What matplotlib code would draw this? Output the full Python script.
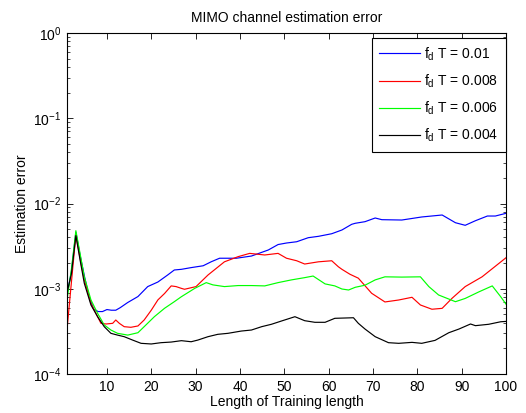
import numpy as np
import matplotlib.pyplot as plt
from matplotlib.ticker import LogLocator, NullFormatter

plt.rcParams['font.family'] = ['Liberation Sans', 'DejaVu Sans']
plt.rcParams['mathtext.fontset'] = 'custom'
plt.rcParams['mathtext.rm'] = 'Liberation Sans'

# ---- data ----
x_01 = [1, 2, 3, 4, 5, 6, 7, 8, 9, 10, 11, 12, 13, 14.7, 17, 19.2, 21.5, 23.7, 25.2, 26.8,
        29, 31.7, 33.5, 35.4, 39.2, 42.6, 46.4, 48.6, 50.5, 52.8, 55.4, 57.7, 60.7, 63,
        65.2, 66, 68.2, 70.5, 72, 76.5, 81, 85.6, 88.6, 90.8, 93.1, 95.8, 97.6, 100]
y_01 = [8.5e-4, 1.6e-3, 4.6e-3, 2.4e-3, 1.35e-3, 8.0e-4, 5.8e-4, 5.4e-4, 5.4e-4, 5.7e-4,
        5.6e-4, 5.6e-4, 6.0e-4, 6.9e-4, 8.1e-4, 1.06e-3, 1.2e-3, 1.45e-3, 1.66e-3, 1.69e-3,
        1.77e-3, 1.86e-3, 2.07e-3, 2.28e-3, 2.28e-3, 2.42e-3, 2.85e-3, 3.3e-3, 3.44e-3,
        3.56e-3, 3.97e-3, 4.12e-3, 4.42e-3, 4.89e-3, 5.7e-3, 5.86e-3, 6.12e-3, 6.76e-3,
        6.46e-3, 6.4e-3, 6.95e-3, 7.33e-3, 5.95e-3, 5.55e-3, 6.28e-3, 7.13e-3, 7.13e-3, 7.67e-3]

x_008 = [1, 2, 3, 4, 4.9, 6.4, 7.9, 8.65, 9.8, 11.3, 12, 12.8, 13.9, 15.4, 17, 18.4, 20,
         21.5, 23, 24.5, 25.6, 26.8, 27.5, 30.1, 32.8, 36.5, 39.6, 42.2, 45.6, 48.6, 50.5,
         52.8, 54.6, 57.7, 60.7, 62.2, 63, 64.8, 66.7, 69.7, 72.7, 75.8, 78.8, 80.7, 83.3,
         85.6, 87.8, 90.8, 94.6, 100]
y_008 = [3.3e-4, 1.2e-3, 4.3e-3, 2.2e-3, 1.27e-3, 6.75e-4, 4.7e-4, 3.93e-4, 3.86e-4, 3.93e-4,
         4.3e-4, 3.93e-4, 3.59e-4, 3.53e-4, 3.66e-4, 4.3e-4, 5.6e-4, 7.4e-4, 8.8e-4, 1.08e-3,
         1.06e-3, 1.01e-3, 9.86e-4, 1.06e-3, 1.45e-3, 2.07e-3, 2.38e-3, 2.6e-3, 2.49e-3,
         2.6e-3, 2.28e-3, 2.13e-3, 1.95e-3, 2.07e-3, 2.13e-3, 1.81e-3, 1.69e-3, 1.48e-3,
         1.33e-3, 8.85e-4, 7.0e-4, 7.38e-4, 7.94e-4, 6.45e-4, 5.75e-4, 5.89e-4, 7.7e-4,
         1.06e-3, 1.38e-3, 2.31e-3]

x_006 = [1, 2, 3, 4, 4.9, 6.4, 7.9, 9.4, 10.9, 12.4, 14.7, 17, 18.4, 20.7, 23, 25.2, 26.8,
         29.8, 32.4, 33.9, 36.5, 39.6, 42.6, 45.6, 48.6, 51.6, 54.6, 56.5, 59.2, 61.4, 63,
         64.5, 66, 68.2, 70.5, 72.7, 76.5, 80.7, 82.6, 84.8, 88.6, 90.8, 93.9, 96.9, 98.8, 100]
y_006 = [7.4e-4, 1.7e-3, 4.8e-3, 2.5e-3, 1.38e-3, 7.4e-4, 5.15e-4, 3.76e-4, 3.28e-4, 3.0e-4,
         2.86e-4, 3.05e-4, 3.59e-4, 4.7e-4, 5.9e-4, 7.05e-4, 8.07e-4, 1.01e-3, 1.18e-3,
         1.11e-3, 1.06e-3, 1.09e-3, 1.09e-3, 1.08e-3, 1.18e-3, 1.27e-3, 1.35e-3, 1.41e-3,
         1.14e-3, 1.08e-3, 9.93e-4, 9.67e-4, 1.04e-3, 1.1e-3, 1.27e-3, 1.38e-3, 1.37e-3,
         1.38e-3, 1.06e-3, 8.45e-4, 7.05e-4, 7.7e-4, 9.2e-4, 1.08e-3, 8.07e-4, 6.6e-4]

x_004 = [1, 2, 3, 4, 4.9, 6.4, 7.9, 9.4, 10.9, 12.4, 13.9, 15.8, 17.7, 20, 22.2, 24.5, 26.8,
         29, 30.5, 32.8, 35, 37.3, 40.3, 42.6, 44.9, 47.1, 49.4, 52.4, 54.6, 56.9, 59.2,
         61.4, 65.6, 66.7, 68.2, 70.5, 73.5, 75.8, 78.8, 81, 84, 87.1, 89.4, 92, 93.1, 96.1,
         98.8, 100]
y_004 = [9.0e-4, 1.5e-3, 4.2e-3, 2.1e-3, 1.16e-3, 6.45e-4, 4.7e-4, 3.59e-4, 3.0e-4, 2.86e-4,
         2.74e-4, 2.5e-4, 2.29e-4, 2.25e-4, 2.33e-4, 2.37e-4, 2.46e-4, 2.39e-4, 2.5e-4,
         2.74e-4, 2.92e-4, 3.0e-4, 3.19e-4, 3.28e-4, 3.59e-4, 3.83e-4, 4.19e-4, 4.7e-4,
         4.22e-4, 4.04e-4, 4.04e-4, 4.5e-4, 4.57e-4, 3.93e-4, 3.37e-4, 2.74e-4, 2.33e-4,
         2.29e-4, 2.35e-4, 2.29e-4, 2.48e-4, 3.05e-4, 3.37e-4, 3.86e-4, 3.69e-4, 3.83e-4,
         4.1e-4, 4.14e-4]

labels = [r'f$_{\rm d}$ T = 0.01', r'f$_{\rm d}$ T = 0.008',
          r'f$_{\rm d}$ T = 0.006', r'f$_{\rm d}$ T = 0.004']
colors = ['#0000ff', '#ff0000', '#00ff00', '#000000']

# ---- plot ----
fig = plt.figure(figsize=(5.26, 4.13), dpi=100)
ax = fig.add_axes([67/526, 1-374/413, (506-67)/526, (374-33)/413])

series = [(x_01, y_01), (x_008, y_008), (x_006, y_006), (x_004, y_004)]
for (xs, ys), c, lab in zip(series, colors, labels):
    ax.plot(xs, ys, color=c, lw=0.85, label=lab)

ax.set_yscale('log')
ax.set_xlim(1, 100)
ax.set_ylim(1e-4, 1e0)
ax.set_xticks(range(10, 101, 10))
ax.yaxis.set_major_locator(LogLocator(base=10, numticks=10))
ax.yaxis.set_minor_locator(LogLocator(base=10, subs=np.arange(2, 10), numticks=10))
ax.yaxis.set_minor_formatter(NullFormatter())
ax.tick_params(which='both', direction='in', top=True, right=True, labelsize=10)
ax.tick_params(which='major', length=4, width=0.6, pad=4)
ax.tick_params(which='minor', length=2, width=0.5)
for s in ax.spines.values():
    s.set_linewidth(0.8)

ax.set_title('MIMO channel estimation error', fontsize=10, pad=8)
ax.set_xlabel('Length of Training length', fontsize=10, labelpad=1)
ax.set_ylabel('Estimation error', fontsize=10, labelpad=3)

leg = ax.legend(loc='upper left', bbox_to_anchor=(371.7/526, 1-37.7/413),
                bbox_transform=fig.transFigure, borderaxespad=0, fontsize=10,
                handlelength=2.9, handletextpad=0.35, labelspacing=0.7,
                borderpad=0.55, fancybox=False, framealpha=1, edgecolor='black')
leg.get_frame().set_linewidth(0.8)

fig.savefig('out.png', dpi=100)
